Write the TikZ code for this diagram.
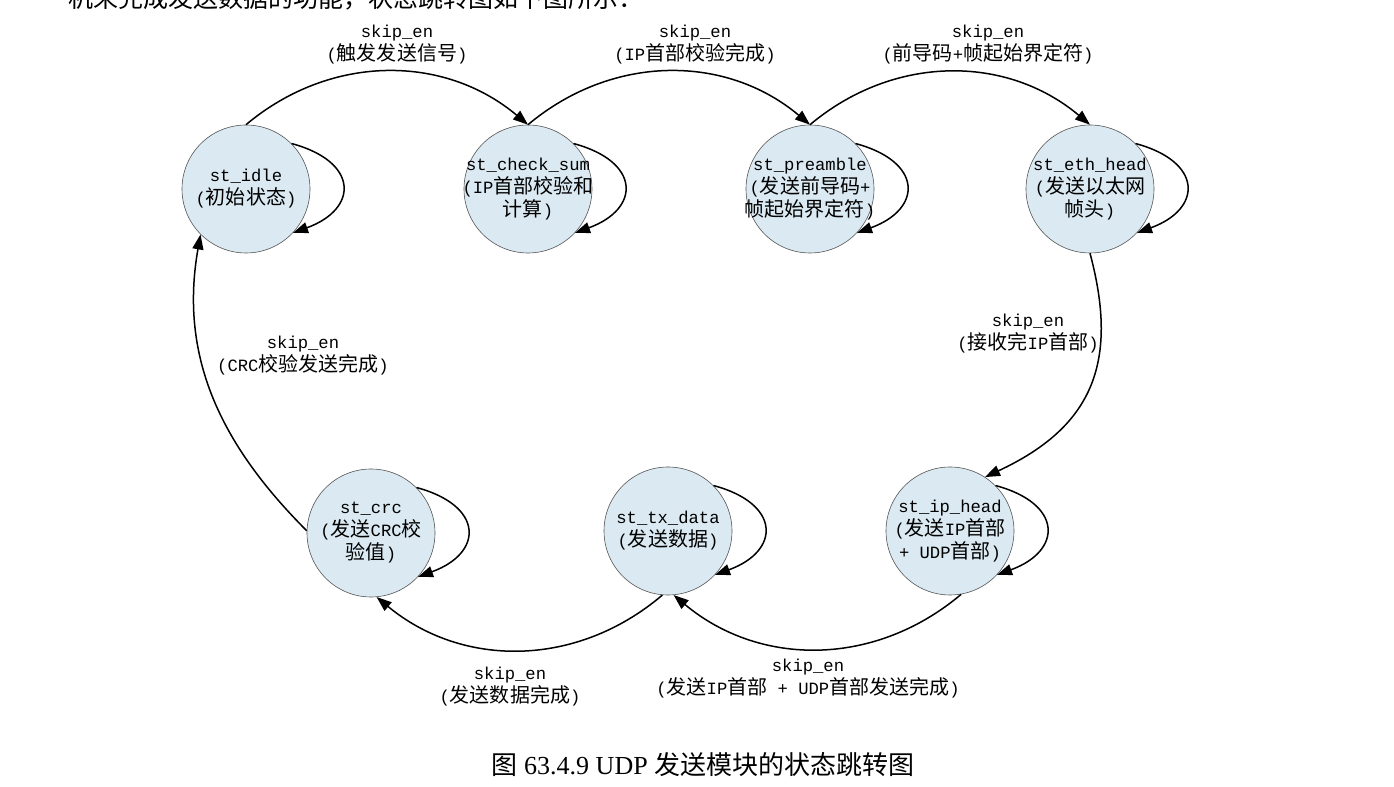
\documentclass[tikz,border=0pt]{standalone}
\usepackage{fontspec}
\setmainfont{Liberation Serif}
\setmonofont{Liberation Mono}
\newfontfamily\cjk[Scale=1.163]{Noto Sans CJK SC}
\newfontfamily\cjkcap{Noto Sans CJK SC}
\usetikzlibrary{arrows.meta}
\definecolor{stfill}{HTML}{DBEAF2}
\definecolor{stedge}{HTML}{555555}
\newcommand{\zh}[1]{{\cjk #1}}

\begin{document}
\begin{tikzpicture}[x=0.5pt, y=0.5pt,
    font=\fontsize{8.6pt}{11.5pt}\selectfont\ttfamily,
    st/.style={circle, draw=stedge, line width=0.3pt, fill=stfill,
      minimum size=64pt, inner sep=-8pt, align=center},
    lbl/.style={align=center, inner sep=0pt},
    arr/.style={-{Triangle[length=7.5pt,width=5.5pt]}, line width=0.75pt}]
    \useasboundingbox (0,0) rectangle (1394,787);
    % text line cut by the top edge
    \begin{scope}
      \clip (0,0) rectangle (1394,787);
      \node[anchor=west, inner sep=0pt, font=\fontsize{12.5pt}{14pt}\selectfont\cjkcap]
        (intro) at (68,789) {机来完成发送数据的功能，状态跳转图如下图所示：};
    \end{scope}
    % states
    \node[st] (idle) at (246,598)  {st\_idle\\(\zh{初始状态})};
    \node[st] (chk)  at (528,598)  {st\_check\_sum\\(IP\zh{首部校验和}\\\zh{计算})};
    \node[st] (pre)  at (810,598)  {st\_preamble\\(\zh{发送前导码}+\\\zh{帧起始界定符})};
    \node[st] (eth)  at (1090,598) {st\_eth\_head\\(\zh{发送以太网}\\\zh{帧头})};
    \node[st] (iph)  at (950,256)  {st\_ip\_head\\(\zh{发送}IP\zh{首部}\\+ UDP\zh{首部})};
    \node[st] (txd)  at (668,256)  {st\_tx\_data\\(\zh{发送数据})};
    \node[st] (crc)  at (371,254)  {st\_crc\\(\zh{发送}CRC\zh{校}\\\zh{验值})};
    % self loops
    \foreach \n in {idle,chk,pre,eth,iph,txd,crc}
      \draw[arr] (\n.45) .. controls +(-15:35pt) and +(20:35pt) .. (\n.-43);
    % transitions
    \draw[arr] (idle.north) to[bend left=40] (chk.north);
    \draw[arr] (chk.north)  to[bend left=40] (pre.north);
    \draw[arr] (pre.north)  to[bend left=40] (eth.north);
    \draw[arr] (eth.south)  to[out=-75, in=25, looseness=1.2] (iph.57);
    \draw[arr] (iph.-80)    to[bend left=40] (txd.-85);
    \draw[arr] (txd.-95)    to[bend left=40] (crc.-85);
    \draw[arr] (crc.178)    to[out=135, in=-100] (idle.225);
    % transition labels
    \node[lbl] (l1) at (397,742)   {skip\_en\\(\zh{触发发送信号})};
    \node[lbl] (l2) at (695,742)   {skip\_en\\(IP\zh{首部校验完成})};
    \node[lbl] (l3) at (988,742)   {skip\_en\\(\zh{前导码}+\zh{帧起始界定符})};
    \node[lbl] (l4) at (1028,453)  {skip\_en\\(\zh{接收完}IP\zh{首部})};
    \node[lbl] (l5) at (808,108)   {skip\_en\\(\zh{发送}IP\zh{首部} + UDP\zh{首部发送完成})};
    \node[lbl] (l6) at (510,100)   {skip\_en\\(\zh{发送数据完成})};
    \node[lbl] (l7) at (303,431)   {skip\_en\\(CRC\zh{校验发送完成})};
    % caption
    \node[inner sep=0pt, font=\fontsize{13pt}{15pt}\selectfont\rmfamily] (cap) at (703,22)
      {{\cjkcap 图} 63.4.9 UDP {\cjkcap 发送模块的状态跳转图}};
  \end{tikzpicture}
\end{document}
